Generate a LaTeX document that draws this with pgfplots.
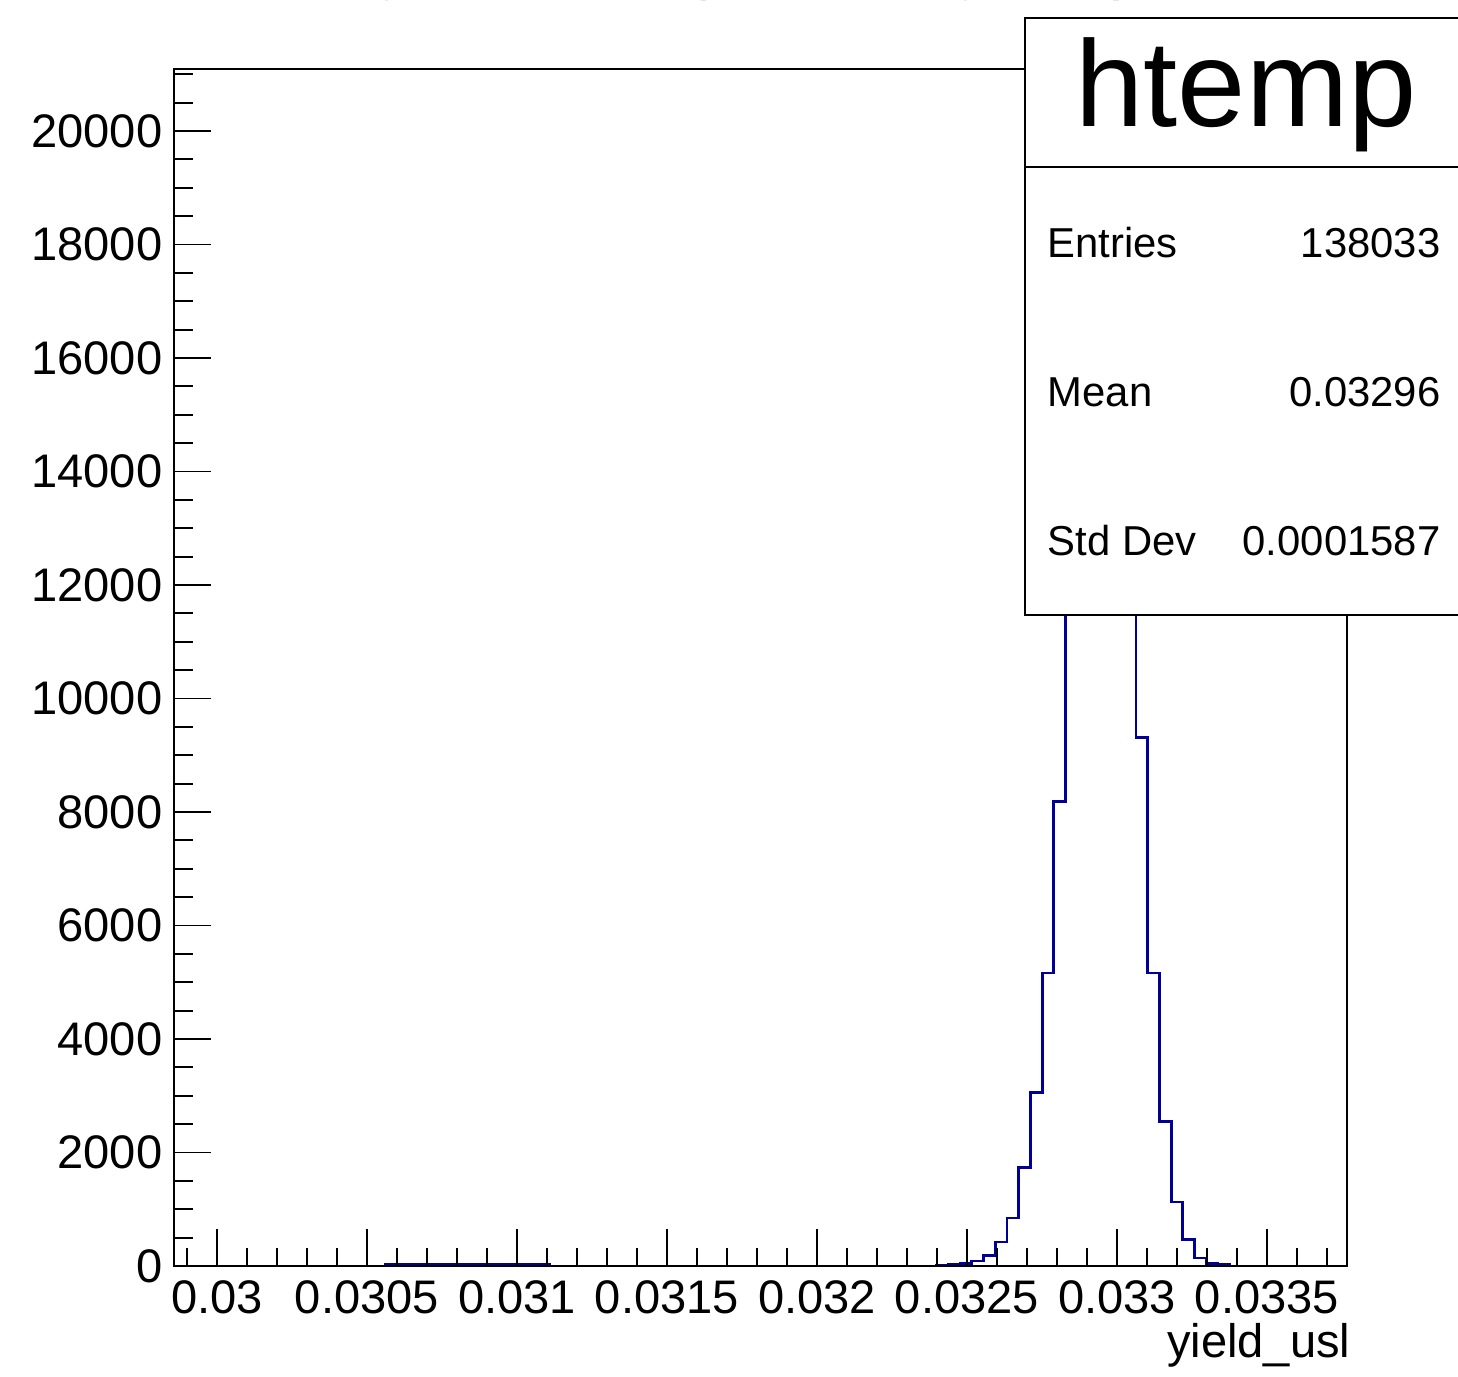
\documentclass[border=0pt]{standalone}
\usepackage{fontspec}
\setmainfont{Liberation Sans}
\usepackage{pgfplots}
\pgfplotsset{compat=1.18}
\definecolor{rootblue}{RGB}{0,0,153}

\pgfplotstableread{
x y
0.029857 0
0.0305608 25
0.0305999 25
0.0306390 25
0.0306781 25
0.0307172 25
0.0307563 25
0.0307954 25
0.0308345 25
0.0308736 25
0.0309127 25
0.0309518 25
0.0309909 25
0.0310300 25
0.0310691 25
0.0311082 0
0.0323985 15
0.0324376 30
0.0324767 50
0.0325158 90
0.0325549 180
0.0325940 423
0.0326331 846
0.0326722 1736
0.0327113 3058
0.0327504 5165
0.0327895 8189
0.0328286 12400
0.0328677 16500
0.0329068 19300
0.0329459 20089
0.0329850 17450
0.0330241 13500
0.0330632 9315
0.0331023 5165
0.0331414 2546
0.0331805 1128
0.0332196 463
0.0332587 140
0.0332978 50
0.0333369 30
0.0333760 0
0.0337670 0
}\histdata

\begin{document}
\begin{tikzpicture}
\begin{axis}[
  at={(17.4mm,11mm)}, anchor=south west,
  scale only axis, width=117.3mm, height=119.7mm,
  xmin=0.029857, xmax=0.0337667, ymin=0, ymax=21093,
  axis on top,
  axis line style={line width=0.6pt},
  every tick/.style={black, line width=0.55pt},
  xtick={0.03,0.0305,0.031,0.0315,0.032,0.0325,0.033,0.0335},
  xticklabels={0.03,0.0305,0.031,0.0315,0.032,0.0325,0.033,0.0335},
  minor xtick={0.0299,0.0301,0.0302,0.0303,0.0304,0.0306,0.0307,0.0308,0.0309,0.0311,0.0312,0.0313,0.0314,0.0316,0.0317,0.0318,0.0319,0.0321,0.0322,0.0323,0.0324,0.0326,0.0327,0.0328,0.0329,0.0331,0.0332,0.0333,0.0334,0.0336,0.0337},
  ytick={0,2000,4000,6000,8000,10000,12000,14000,16000,18000,20000},
  yticklabels={0,2000,4000,6000,8000,10000,12000,14000,16000,18000,20000},
  minor ytick={500,1000,1500,2500,3000,3500,4500,5000,5500,6500,7000,7500,8500,9000,9500,10500,11000,11500,12500,13000,13500,14500,15000,15500,16500,17000,17500,18500,19000,19500,20500,21000},
  xtick pos=bottom, ytick pos=left,
  tick align=inside,
  major tick length=3.7mm, minor tick length=1.85mm,
  scaled x ticks=false, scaled y ticks=false,
  /pgf/number format/assume math mode=true,
  tick label style={font=\fontsize{13.4}{16}\selectfont},
  xticklabel style={anchor=north, inner sep=0pt, yshift=-1.4mm},
  yticklabel style={anchor=east, inner sep=0pt, xshift=-1.1mm},
  xlabel={yield\_usl},
  x label style={at={(rel axis cs:1,0)}, anchor=base east, inner sep=0pt, yshift=-9.1mm, xshift=0.4mm, font=\fontsize{13.4}{16}\selectfont},
]
\addplot[const plot, rootblue, line width=0.8pt] table[x=x, y=y] {\histdata};
\end{axis}

% title (cut off by the page edge, as in the reference)
\node[anchor=base west, inner sep=0pt, font=\fontsize{20.7}{24}\selectfont] at (38mm,139.0mm) {yield\_usl \{flavortag==1\}};

% stats box
\draw[line width=0.6pt, fill=white] (102.5mm,76.1mm) rectangle (150mm,135.8mm);
\draw[line width=0.6pt] (102.5mm,120.9mm) -- (150mm,120.9mm);
\node[anchor=base, inner sep=0pt, font=\fontsize{34.9}{40}\selectfont] at (124.6mm,124.9mm) {htemp};
\begin{scope}[every node/.style={inner sep=0pt, font=\fontsize{11.9}{14}\selectfont}]
\node[anchor=base west] at (104.7mm,111.8mm) {Entries};
\node[anchor=base east] at (144.1mm,111.8mm) {138033};
\node[anchor=base west] at (104.7mm,96.9mm) {Mean};
\node[anchor=base east] at (144.1mm,96.9mm) {0.03296};
\node[anchor=base west] at (104.7mm,82.1mm) {Std Dev};
\node[anchor=base east] at (144.1mm,82.1mm) {0.0001587};
\end{scope}

\pgfresetboundingbox
\useasboundingbox (0,0) rectangle (145.8mm,137.6mm);
\end{tikzpicture}
\end{document}
